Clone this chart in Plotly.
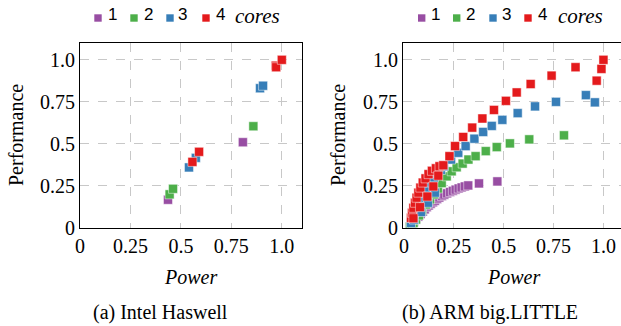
import plotly.graph_objects as go

W, H = 621, 326

colors = {"1": "#984ea3", "2": "#4daf4a", "3": "#377eb8", "4": "#e41a1c"}
series_names = ["1", "2", "3", "4"]

tick_vals = [0, 0.25, 0.5, 0.75, 1.0]
tick_text = ["0", "0.25", "0.5", "0.75", "1.0"]

# (a) Intel Haswell
has_x_1 = [0.436, 0.807]
has_y_1 = [0.168, 0.510]
has_x_2 = [0.444, 0.461, 0.859]
has_y_2 = [0.200, 0.233, 0.605]
has_x_3 = [0.540, 0.574, 0.892, 0.907]
has_y_3 = [0.360, 0.417, 0.831, 0.846]
has_x_4 = [0.557, 0.590, 0.970, 0.972, 1.000]
has_y_4 = [0.393, 0.453, 0.965, 0.956, 1.000]

# (b) ARM big.LITTLE
arm_x_1 = [0.030, 0.040, 0.050, 0.061, 0.072, 0.083, 0.094, 0.104, 0.114, 0.124, 0.134, 0.145, 0.155, 0.166,
           0.177, 0.190, 0.202, 0.216, 0.231, 0.245, 0.259, 0.274, 0.289, 0.305, 0.322, 0.376, 0.468]
arm_y_1 = [0.008, 0.023, 0.038, 0.053, 0.068, 0.083, 0.098, 0.111, 0.124, 0.134, 0.144, 0.153, 0.162, 0.172,
           0.181, 0.190, 0.198, 0.206, 0.214, 0.221, 0.228, 0.235, 0.241, 0.247, 0.253, 0.265, 0.277]
arm_x_2 = [0.030, 0.040, 0.048, 0.060, 0.075, 0.090, 0.110, 0.130, 0.150, 0.170, 0.189, 0.214, 0.239, 0.264,
           0.294, 0.323, 0.359, 0.410, 0.465, 0.531, 0.628, 0.802]
arm_y_2 = [0.008, 0.015, 0.030, 0.050, 0.075, 0.105, 0.140, 0.170, 0.200, 0.235, 0.267, 0.307, 0.337, 0.361,
           0.383, 0.407, 0.427, 0.457, 0.481, 0.503, 0.527, 0.551]
arm_x_3 = [0.035, 0.042, 0.050, 0.060, 0.070, 0.082, 0.096, 0.112, 0.130, 0.150, 0.170, 0.185, 0.200, 0.236,
           0.272, 0.309, 0.353, 0.397, 0.440, 0.493, 0.570, 0.657, 0.762, 0.912, 0.957,
           0.050, 0.085, 0.120, 0.155]
arm_y_3 = [0.030, 0.060, 0.090, 0.120, 0.150, 0.180, 0.210, 0.240, 0.270, 0.300, 0.325, 0.345, 0.367, 0.407,
           0.447, 0.487, 0.531, 0.571, 0.607, 0.643, 0.683, 0.723, 0.750, 0.790, 0.747,
           0.050, 0.095, 0.150, 0.210]
arm_x_4 = [0.035, 0.040, 0.047, 0.055, 0.063, 0.072, 0.082, 0.094, 0.108, 0.123, 0.140, 0.160, 0.178, 0.197,
           0.228, 0.256, 0.297, 0.342, 0.393, 0.451, 0.511, 0.565, 0.635, 0.740, 0.860, 0.966, 0.990, 1.000,
           0.047, 0.080, 0.117, 0.147, 0.172]
arm_y_4 = [0.060, 0.090, 0.120, 0.150, 0.180, 0.210, 0.240, 0.270, 0.295, 0.320, 0.340, 0.355, 0.367, 0.373,
           0.427, 0.487, 0.541, 0.597, 0.651, 0.702, 0.756, 0.806, 0.856, 0.906, 0.956, 0.876, 0.946, 1.000,
           0.058, 0.124, 0.187, 0.247, 0.311]

has_data = {"1": (has_x_1, has_y_1), "2": (has_x_2, has_y_2), "3": (has_x_3, has_y_3), "4": (has_x_4, has_y_4)}
arm_data = {"1": (arm_x_1, arm_y_1), "2": (arm_x_2, arm_y_2), "3": (arm_x_3, arm_y_3), "4": (arm_x_4, arm_y_4)}

def px(x):
    return x / W

def py(y):
    return 1 - y / H

fig = go.Figure()

for name in series_names:
    xs, ys = has_data[name]
    fig.add_trace(go.Scatter(x=xs, y=ys, mode="markers", xaxis="x", yaxis="y", showlegend=False,
                             hoverinfo="skip",
                             marker=dict(symbol="square", size=9, color=colors[name],
                                         line=dict(width=0.8, color="rgba(255,255,255,0.6)"))))
for name in series_names:
    xs, ys = arm_data[name]
    fig.add_trace(go.Scatter(x=xs, y=ys, mode="markers", xaxis="x2", yaxis="y2", showlegend=False,
                             hoverinfo="skip",
                             marker=dict(symbol="square", size=9, color=colors[name],
                                         line=dict(width=0.8, color="rgba(255,255,255,0.6)"))))

serif = "Liberation Serif"
sans = "Liberation Sans"

axis_common = dict(
    tickvals=tick_vals, ticktext=tick_text, showgrid=True, gridcolor="#c8c8c8", griddash="dash", gridwidth=1,
    showline=True, linecolor="black", linewidth=1, mirror=True, zeroline=False, ticks="",
    tickfont=dict(family=serif, size=20, color="black"), automargin=False,
)

y_bottom = py(228)
y_top = py(43)

fig.update_layout(
    width=W, height=H, margin=dict(l=0, r=0, t=0, b=0, autoexpand=False),
    font=dict(family=serif, color="black"),
    paper_bgcolor="white", plot_bgcolor="white", showlegend=False,
    xaxis=dict(domain=[px(80), px(302)], range=[0, 1.1], anchor="y", **axis_common),
    yaxis=dict(domain=[y_bottom, y_top], range=[0, 1.1], anchor="x", **axis_common),
    xaxis2=dict(domain=[px(403), 1.0], range=[-0.005, 1.088], anchor="y2", **axis_common),
    yaxis2=dict(domain=[y_bottom, y_top], range=[0, 1.1], anchor="x2", **axis_common),
)

annotations = []
shapes = []

def add_text(x, y, text, family, size, xanchor="center", textangle=0, style="normal"):
    annotations.append(dict(x=px(x), y=py(y), xref="paper", yref="paper", text=text, showarrow=False,
                            xanchor=xanchor, yanchor="middle", textangle=textangle,
                            font=dict(family=family, size=size, color="black", style=style)))

# axis titles and captions
add_text(190, 277, "Power", serif, 20, style="italic")
add_text(513, 277, "Power", serif, 20, style="italic")
add_text(16, 135, "Performance", serif, 20, textangle=-90)
add_text(338, 135, "Performance", serif, 20, textangle=-90)
add_text(160, 312, "(a) Intel Haswell", serif, 20)
add_text(490, 312, "(b) ARM big.LITTLE", serif, 20)

# legends
legend_sets = [
    ([98, 134, 170, 206], [112, 148, 183, 220], 233),
    ([421.7, 456.7, 493, 528], [435, 470.7, 506.7, 542], 556),
]
ly = 15
for sq_x, txt_x, cores_x in legend_sets:
    for name, sx, tx in zip(series_names, sq_x, txt_x):
        s = 3.7
        shapes.append(dict(type="rect", xref="paper", yref="paper", x0=px(sx - s), x1=px(sx + s),
                           y0=py(ly + 3 + s), y1=py(ly + 3 - s), fillcolor=colors[name],
                           line=dict(width=0)))
        add_text(tx, ly, name, sans, 17)
    add_text(cores_x, ly + 1, "cores", serif, 21, xanchor="left", style="italic")

fig.update_layout(annotations=annotations, shapes=shapes)
fig.write_html("out.html", config={"displayModeBar": False},
               post_script="document.body.style.margin='0';document.body.style.padding='0';")
